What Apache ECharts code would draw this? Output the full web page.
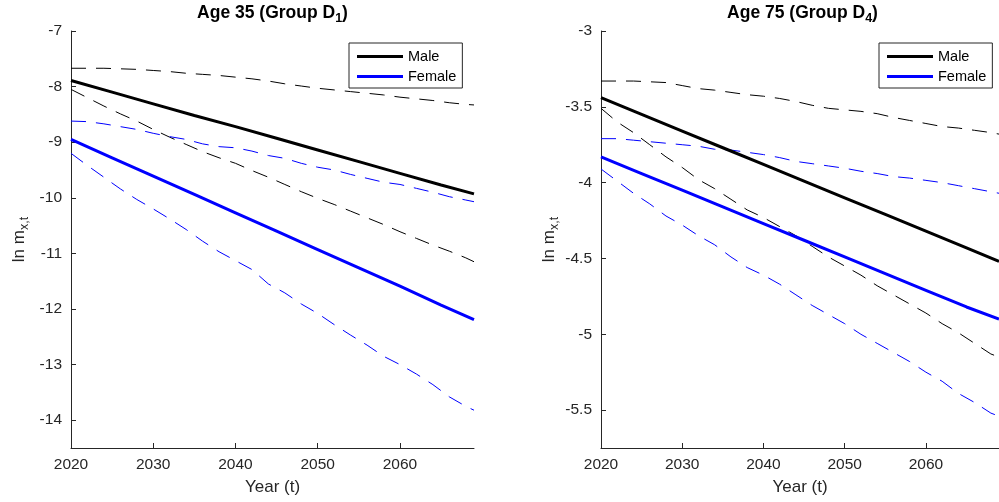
<!DOCTYPE html>
<html>
<head>
<meta charset="utf-8">
<script src="https://cdn.jsdelivr.net/npm/echarts@6/dist/echarts.min.js"></script>
<style>html,body{margin:0;padding:0;background:#fff}#c{width:999px;height:502px}</style>
</head>
<body>
<div id="c"></div>
<script>
// ---- data ----
const solidYears = [2020, 2025, 2030, 2035, 2040, 2045, 2050, 2055, 2060, 2065, 2069];
const dashYears = [2020, 2022, 2024, 2026, 2028, 2030, 2032, 2034, 2036, 2038, 2040, 2042, 2044, 2046, 2048, 2050, 2052, 2054, 2056, 2058, 2060, 2062, 2064, 2066, 2068, 2069];
const xTicks = [2020, 2030, 2040, 2050, 2060];
const leftYTicks = [-14, -13, -12, -11, -10, -9, -8, -7];
const rightYTicks = [-5.5, -5, -4.5, -4, -3.5, -3];

// Age 35 (left)
const age35Male = [-7.89, -8.10, -8.31, -8.52, -8.72, -8.93, -9.14, -9.35, -9.56, -9.77, -9.93];
const age35Female = [-8.95, -9.28, -9.61, -9.94, -10.27, -10.60, -10.93, -11.26, -11.59, -11.93, -12.19];
const age35MaleUpper = [-7.67, -7.67, -7.67, -7.68, -7.69, -7.71, -7.73, -7.76, -7.78, -7.80, -7.83, -7.86, -7.90, -7.95, -7.99, -8.03, -8.06, -8.09, -8.12, -8.15, -8.19, -8.22, -8.25, -8.29, -8.32, -8.33];
const age35MaleLower = [-8.05, -8.20, -8.35, -8.49, -8.62, -8.77, -8.91, -9.04, -9.17, -9.28, -9.38, -9.51, -9.63, -9.76, -9.89, -10.01, -10.12, -10.24, -10.36, -10.48, -10.61, -10.73, -10.85, -10.96, -11.08, -11.15];
const age35FemaleUpper = [-8.62, -8.63, -8.67, -8.72, -8.77, -8.84, -8.90, -8.95, -9.03, -9.08, -9.10, -9.16, -9.24, -9.29, -9.38, -9.45, -9.50, -9.58, -9.65, -9.72, -9.76, -9.83, -9.90, -9.98, -10.04, -10.07];
const age35FemaleLower = [-9.20, -9.42, -9.63, -9.84, -10.03, -10.20, -10.38, -10.57, -10.78, -10.97, -11.13, -11.29, -11.55, -11.71, -11.91, -12.08, -12.28, -12.47, -12.65, -12.85, -13.00, -13.17, -13.36, -13.58, -13.75, -13.82];

// Age 75 (right)
const age75Male = [-3.44, -3.55, -3.66, -3.77, -3.88, -3.99, -4.10, -4.21, -4.32, -4.43, -4.52];
const age75Female = [-3.83, -3.94, -4.05, -4.16, -4.27, -4.38, -4.49, -4.60, -4.71, -4.82, -4.90];
const age75MaleUpper = [-3.33, -3.33, -3.33, -3.335, -3.34, -3.36, -3.38, -3.39, -3.405, -3.42, -3.43, -3.445, -3.465, -3.49, -3.51, -3.52, -3.53, -3.545, -3.57, -3.59, -3.61, -3.63, -3.64, -3.655, -3.67, -3.68];
const age75MaleLower = [-3.51, -3.60, -3.67, -3.75, -3.83, -3.90, -3.98, -4.04, -4.11, -4.18, -4.23, -4.29, -4.35, -4.42, -4.49, -4.55, -4.61, -4.68, -4.74, -4.80, -4.86, -4.93, -4.99, -5.06, -5.13, -5.15];
const age75FemaleUpper = [-3.71, -3.71, -3.72, -3.73, -3.74, -3.75, -3.76, -3.78, -3.785, -3.80, -3.815, -3.835, -3.86, -3.875, -3.89, -3.905, -3.925, -3.94, -3.96, -3.97, -3.985, -4.00, -4.02, -4.04, -4.06, -4.07];
const age75FemaleLower = [-3.91, -3.99, -4.07, -4.14, -4.22, -4.28, -4.35, -4.41, -4.49, -4.56, -4.61, -4.67, -4.74, -4.81, -4.87, -4.93, -5.00, -5.06, -5.12, -5.18, -5.25, -5.31, -5.39, -5.45, -5.52, -5.54];

// ---- chart ----
const FONT = 'Liberation Sans, Arial, Helvetica, sans-serif';
const AX = '#262626';
const pair = (xs, ys) => xs.map((x, i) => [x, ys[i]]);

function xAxis(gi) {
  return {
    type: 'value', gridIndex: gi, min: 2020, max: 2069,
    name: 'Year (t)', nameLocation: 'middle', nameGap: 31,
    nameTextStyle: { fontFamily: FONT, fontSize: 17, color: AX },
    axisLine: { show: true, lineStyle: { color: AX, width: 1 } },
    axisTick: { show: true, inside: true, length: 5, customValues: xTicks, lineStyle: { color: AX } },
    axisLabel: { fontFamily: FONT, fontSize: 15.5, color: AX, margin: 9, customValues: xTicks, formatter: v => String(v) },
    splitLine: { show: false }
  };
}
function yAxis(gi, mn, mx, ticks) {
  return {
    type: 'value', gridIndex: gi, min: mn, max: mx,
    name: '{m|ln m}{s|x,t}', nameLocation: 'middle', nameGap: 40,
    nameTextStyle: {
      fontFamily: FONT, color: AX,
      rich: {
        m: { fontFamily: FONT, fontSize: 17, color: AX, lineHeight: 24 },
        s: { fontFamily: FONT, fontSize: 12.5, color: AX, lineHeight: 12, verticalAlign: 'bottom' }
      }
    },
    axisLine: { show: true, lineStyle: { color: AX, width: 1 } },
    axisTick: { show: true, inside: true, length: 5, customValues: ticks, lineStyle: { color: AX } },
    axisLabel: { fontFamily: FONT, fontSize: 15.5, color: AX, margin: 9, customValues: ticks, formatter: v => String(v) },
    splitLine: { show: false }
  };
}
function dashed(name, gi, ys, color) {
  return {
    name: name, type: 'line', xAxisIndex: gi, yAxisIndex: gi,
    data: pair(dashYears, ys), symbol: 'none', silent: true,
    lineStyle: { color: color, width: 1, type: [15, 10] }, z: 2
  };
}
function solid(name, gi, ys, color) {
  return {
    name: name, type: 'line', xAxisIndex: gi, yAxisIndex: gi,
    data: pair(solidYears, ys), symbol: 'none', silent: true,
    itemStyle: { color: color },
    lineStyle: { color: color, width: 3 }, z: 3
  };
}
const titleRich = {
  b: { fontFamily: FONT, fontSize: 17.5, fontWeight: 'bold', color: '#000', lineHeight: 24 },
  s: { fontFamily: FONT, fontSize: 12.5, fontWeight: 'bold', color: '#000', lineHeight: 12, verticalAlign: 'bottom' }
};
function legend(left) {
  return {
    data: [{ name: 'Male', icon: 'rect' }, { name: 'Female', icon: 'rect' }],
    orient: 'vertical', left: left, top: 43,
    padding: [6, 6, 4, 8], itemGap: 5, itemWidth: 46, itemHeight: 3,
    backgroundColor: '#fff', borderColor: AX, borderWidth: 1, borderRadius: 0,
    textStyle: { fontFamily: FONT, fontSize: 14.5, color: '#000', lineHeight: 14 },
    selectedMode: false
  };
}

const chart = echarts.init(document.getElementById('c'), null, { renderer: 'canvas' });
chart.setOption({
  animation: false,
  backgroundColor: '#fff',
  title: [
    { text: '{b|Age 35 (Group D}{s|1}{b|)}', left: 272.5, top: 1, textAlign: 'center', padding: 0, textStyle: { rich: titleRich } },
    { text: '{b|Age 75 (Group D}{s|4}{b|)}', left: 802.5, top: 1, textAlign: 'center', padding: 0, textStyle: { rich: titleRich } }
  ],
  legend: [legend(349), legend(879)],
  grid: [
    { left: 71, top: 31, width: 403, height: 417, containLabel: false },
    { left: 601, top: 31, width: 403, height: 417, containLabel: false }
  ],
  xAxis: [xAxis(0), xAxis(1)],
  yAxis: [yAxis(0, -14.5, -7, leftYTicks), yAxis(1, -5.75, -3, rightYTicks)],
  series: [
    dashed('Male band', 0, age35MaleUpper, '#000'),
    dashed('Male band', 0, age35MaleLower, '#000'),
    dashed('Female band', 0, age35FemaleUpper, '#0000ff'),
    dashed('Female band', 0, age35FemaleLower, '#0000ff'),
    solid('Male', 0, age35Male, '#000'),
    solid('Female', 0, age35Female, '#0000ff'),
    dashed('Male band', 1, age75MaleUpper, '#000'),
    dashed('Male band', 1, age75MaleLower, '#000'),
    dashed('Female band', 1, age75FemaleUpper, '#0000ff'),
    dashed('Female band', 1, age75FemaleLower, '#0000ff'),
    solid('Male', 1, age75Male, '#000'),
    solid('Female', 1, age75Female, '#0000ff')
  ]
});
</script>
</body>
</html>
